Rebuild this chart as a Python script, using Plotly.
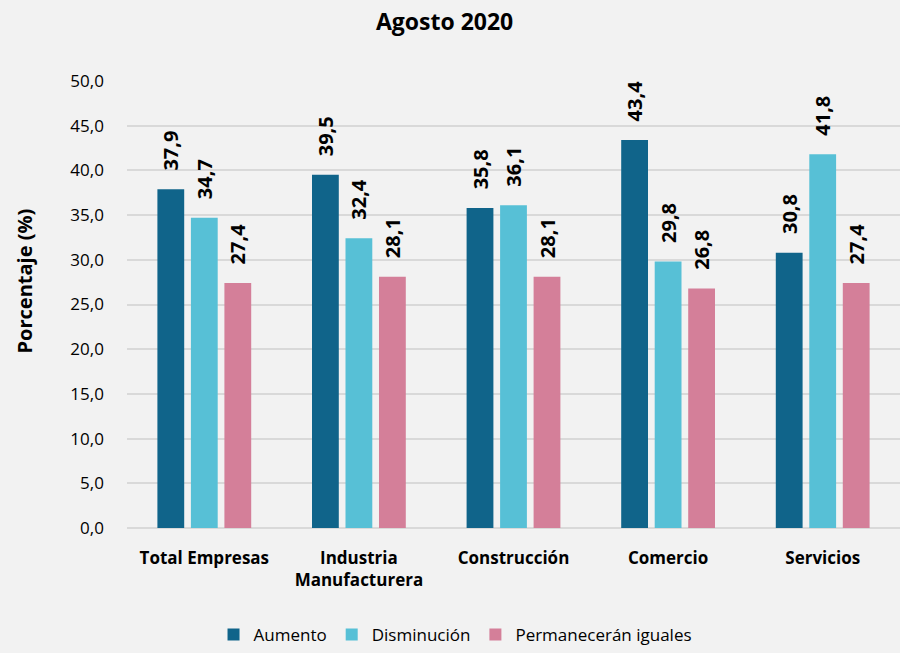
import plotly.graph_objects as go

categorias = ["<b>Total Empresas</b>", "<b>Industria<br>Manufacturera</b>", "<b>Construcción</b>",
              "<b>Comercio</b>", "<b>Servicios</b>"]
aumento = [37.9, 39.5, 35.8, 43.4, 30.8]
disminucion = [34.7, 32.4, 36.1, 29.8, 41.8]
iguales = [27.4, 28.1, 28.1, 26.8, 27.4]

series = [
    ("Aumento", aumento, "#10648a"),
    ("Disminución", disminucion, "#57c0d6"),
    ("Permanecerán iguales", iguales, "#d47f99"),
]

fuente = "Open Sans, Noto Sans, sans-serif"

fig = go.Figure()
for nombre, valores, color in series:
    fig.add_trace(go.Bar(
        x=categorias, y=valores, name=nombre,
        marker=dict(color=color, line=dict(width=0)),
        # espacios al inicio para separar la etiqueta de la barra
        text=["&nbsp;&nbsp;&nbsp;<b>" + f"{v:.1f}".replace(".", ",") + "</b>" for v in valores],
        textposition="outside", textangle=-90, constraintext="none",
        textfont=dict(size=20, color="black", family=fuente),
        cliponaxis=False,
    ))

# titulo del eje y como anotacion (no centrado en el eje en el original)
fig.add_annotation(text="<b>Porcentaje (%)</b>", textangle=-90,
                   xref="paper", yref="paper", x=-0.133, y=0.552,
                   xanchor="center", yanchor="middle", showarrow=False,
                   font=dict(size=20))

fig.update_layout(
    width=900, height=653,
    paper_bgcolor="#f2f2f2", plot_bgcolor="#f2f2f2",
    font=dict(family=fuente, color="black"),
    separators=",.",
    barmode="group", bargap=0.35, bargroupgap=0.2,
    margin=dict(l=127, r=0, t=81, b=120),
    title=dict(text="<b>Agosto 2020</b>", x=0.494, xanchor="center",
               y=0.966, yanchor="middle", font=dict(size=23)),
    legend=dict(orientation="h", x=0.425, xanchor="center", y=-0.24, yanchor="middle",
                font=dict(size=17), itemwidth=30, traceorder="normal"),
    xaxis=dict(showline=False, ticks="", tickfont=dict(size=17), ticklabelstandoff=18),
    yaxis=dict(range=[0, 50], dtick=5, tickformat=".1f", showgrid=True,
               gridcolor="#d9d9d9", gridwidth=2, zeroline=True, zerolinecolor="#d9d9d9",
               zerolinewidth=2, tickfont=dict(size=17), ticksuffix="     "),
)

fig.write_html("out.html", config={"displayModeBar": False},
               post_script="document.body.style.margin='0';")
